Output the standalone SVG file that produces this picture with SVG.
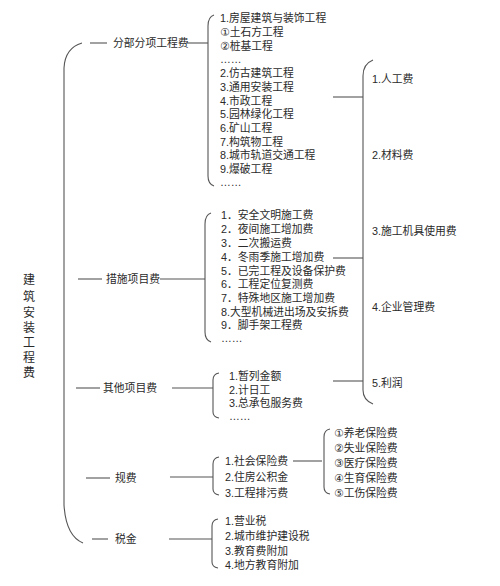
<svg xmlns="http://www.w3.org/2000/svg" width="500" height="586" viewBox="0 0 500 586">
<style>
text{font-family:"Liberation Sans","Noto Sans CJK SC",sans-serif;font-size:10.8px;fill:#2a2a2a}
.c path,.c line{stroke:#555;stroke-width:1.1;fill:none}
.t{font-size:12px}
.n{font-family:"DejaVu Sans","Noto Sans CJK SC",sans-serif}
</style>
<rect width="500" height="586" fill="#fff"/>
<g id="root">
<text class="t" x="29" y="284" text-anchor="middle">建</text>
<text class="t" x="29" y="301" text-anchor="middle">筑</text>
<text class="t" x="29" y="317" text-anchor="middle">安</text>
<text class="t" x="29" y="332" text-anchor="middle">装</text>
<text class="t" x="29" y="347" text-anchor="middle">工</text>
<text class="t" x="29" y="362" text-anchor="middle">程</text>
<text class="t" x="29" y="377" text-anchor="middle">费</text>
</g>
<g class="c" id="connectors">
<path d="M82,43 Q65,48 64,68 V505 Q66,536 83,543"/>
<line x1="90" y1="43" x2="107" y2="43"/>
<line x1="187" y1="43" x2="208" y2="43"/>
<path d="M214,15 Q208,17 208,26 V176 Q208,184 214,186"/>
<line x1="78" y1="279" x2="102" y2="279"/>
<line x1="160" y1="279" x2="205" y2="279"/>
<path d="M211,213 Q205,215 205,224 V332 Q205,340 211,342"/>
<line x1="76" y1="388" x2="100" y2="388"/>
<line x1="172" y1="388" x2="213" y2="388"/>
<path d="M219,373 Q213,374 213,380 V412 Q213,417 219,418"/>
<line x1="86" y1="478" x2="110" y2="478"/>
<line x1="170" y1="477" x2="213" y2="477"/>
<path d="M219,457 Q213,458 213,464 V489 Q213,494 219,495"/>
<line x1="293" y1="461" x2="322" y2="461"/>
<path d="M330,429 Q324,430 324,437 V487 Q324,493 330,494"/>
<line x1="92" y1="539" x2="108" y2="539"/>
<line x1="169" y1="539" x2="212" y2="539"/>
<path d="M218,519 Q212,520 212,526 V562 Q212,567 218,568"/>
<line x1="333" y1="97" x2="363" y2="97"/>
<line x1="333" y1="258" x2="363" y2="258"/>
<line x1="333" y1="381" x2="363" y2="381"/>
<path d="M373,60 Q363,64 363,76 V390 Q363,400 373,404"/>
</g>
<g id="b1">
<text x="113" y="47">分部分项工程费</text>
<text x="220" y="22">1.房屋建筑与装饰工程</text>
<text x="220" y="36"><tspan class="n">①</tspan>土石方工程</text>
<text x="220" y="50"><tspan class="n">②</tspan>桩基工程</text>
<text x="220" y="63">……</text>
<text x="220" y="77">2.仿古建筑工程</text>
<text x="220" y="91">3.通用安装工程</text>
<text x="220" y="105">4.市政工程</text>
<text x="220" y="118">5.园林绿化工程</text>
<text x="220" y="132">6.矿山工程</text>
<text x="220" y="146">7.构筑物工程</text>
<text x="220" y="159">8.城市轨道交通工程</text>
<text x="220" y="173">9.爆破工程</text>
<text x="220" y="186">……</text>
</g>
<g id="b2">
<text x="106" y="283">措施项目费</text>
<text x="221" y="219">1．安全文明施工费</text>
<text x="221" y="233">2．夜间施工增加费</text>
<text x="221" y="247">3．二次搬运费</text>
<text x="221" y="261">4．冬雨季施工增加费</text>
<text x="221" y="275">5．已完工程及设备保护费</text>
<text x="221" y="288">6．工程定位复测费</text>
<text x="221" y="302">7．特殊地区施工增加费</text>
<text x="221" y="316">8.大型机械进出场及安拆费</text>
<text x="221" y="329">9．脚手架工程费</text>
<text x="221" y="342">……</text>
</g>
<g id="b3">
<text x="103" y="392">其他项目费</text>
<text x="229" y="380">1.暂列金额</text>
<text x="229" y="394">2.计日工</text>
<text x="229" y="407">3.总承包服务费</text>
<text x="229" y="420">……</text>
</g>
<g id="b4">
<text x="115" y="482">规费</text>
<text x="225" y="465">1.社会保险费</text>
<text x="225" y="481">2.住房公积金</text>
<text x="225" y="497">3.工程排污费</text>
<text x="334" y="437"><tspan class="n">①</tspan>养老保险费</text>
<text x="334" y="452"><tspan class="n">②</tspan>失业保险费</text>
<text x="334" y="467"><tspan class="n">③</tspan>医疗保险费</text>
<text x="334" y="482"><tspan class="n">④</tspan>生育保险费</text>
<text x="334" y="497"><tspan class="n">⑤</tspan>工伤保险费</text>
</g>
<g id="b5">
<text x="115" y="543">税金</text>
<text x="225" y="525">1.营业税</text>
<text x="225" y="540">2.城市维护建设税</text>
<text x="225" y="555">3.教育费附加</text>
<text x="225" y="569">4.地方教育附加</text>
</g>
<g id="costs">
<text x="372" y="83">1.人工费</text>
<text x="372" y="159">2.材料费</text>
<text x="372" y="235">3.施工机具使用费</text>
<text x="372" y="311">4.企业管理费</text>
<text x="372" y="387">5.利润</text>
</g>
</svg>
